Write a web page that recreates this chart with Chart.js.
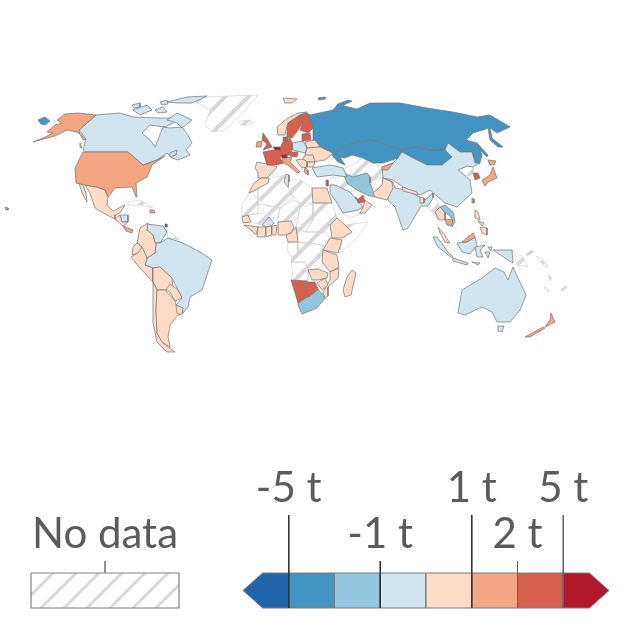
<!DOCTYPE html>
<html>
<head>
<meta charset="utf-8">
<title>Map</title>
<script src="https://cdn.jsdelivr.net/npm/chart.js@4"></script>
<style>
  html, body { margin: 0; padding: 0; background: #fff; }
  canvas { display: block; }
</style>
</head>
<body>
<canvas id="map" width="640" height="640"></canvas>
<script>
// Outlines, one list per colour bin: flat x,y pairs in map units
const noData = [
  [205,97,258,95,245,110,225,130,212,132,205,125,210,110,192,100], // Greenland
  [240,121,250,120,253,123,246,126,240,124], // Iceland
  [249,193,258,190,258,205,265,213,250,215,242,217,242,205],
  [259,188,268,183,270,178,286,175,289,182,288,187,293,197,280,208,265,205,252,193],
  [258,205,265,205,280,208,278,218,269,217,262,225,251,222,248,215,258,213],
  [280,208,293,200,300,203,298,218,291,221,278,222,278,218],
  [289,180,300,180,312,188,313,203,305,207,293,197,288,187],
  [300,203,313,203,313,220,305,232,296,227,298,218],
  [313,203,332,203,337,218,330,225,325,232,305,232,313,220],
  [296,227,305,232,325,232,330,238,323,245,298,242],
  [298,242,323,245,323,262,320,268,308,270,305,262,291,262,292,258,298,255],
  [288,242,298,242,298,255,292,258,287,250],
  [291,262,305,262,308,270,308,281,291,280,293,270],
  [345,225,368,222,355,240,340,253,342,240,352,232],
  [330,178,345,176,347,183,357,190,350,192,335,185,330,185],
  [343,213,358,210,360,213,366,212,350,218],
  [345,168,352,165,363,158,373,163,382,167,383,178,373,180,367,173,353,177,345,172],
  [370,177,383,178,382,185,373,193],
  [425,200,433,193,440,207,435,212,438,220,433,212,427,208],
  [128,202,140,200,153,208,140,205,128,205],
  [459,170,467,166,473,167,473,173,470,176,463,175],
  [513,250,523,257,528,267,517,265],
  [163,226,172,234,180,240,168,238,167,232],
  [536,256,545,262,548,268,540,262], [548,275,552,278,550,281], [561,289,566,286,567,288,562,291],
  [526,254,532,250,534,252,528,256], [545,286,549,290,548,292,544,288]
];
const binBelowMinus5 = [
  [165,224,167,224,167,227,165,227],
  [467,238,469,236,470,238,468,240]
];
const binMinus5ToMinus2 = [
  [310,115,333,110,340,105,357,109,370,103,400,103,427,108,453,112,477,117,490,115,510,127,497,133,490,128,492,138,503,147,498,147,490,140,488,128,483,130,473,133,466,140,477,143,482,155,480,163,475,163,472,152,460,152,448,143,445,150,430,150,415,147,403,150,390,147,380,142,370,140,360,142,347,145,341,148,337,153,340,157,345,165,338,162,330,153,317,144,313,140,313,128,307,113], // Russia
  [337,153,341,148,347,145,360,142,370,140,380,142,390,147,403,150,402,152,398,158,383,163,373,163,363,158,352,155,345,158,340,157],
  [403,150,415,147,430,150,445,150,452,157,442,165,427,165,413,158,402,152],
  [38,120,45,117,50,121,45,125,41,124],
  [333,110,338,104,348,100,352,101,342,106,337,112],
  [318,98,325,97,325,99,319,100],
  [477,143,488,155,487,157,478,148],
  [355,197,357,198,358,201,356,201]
];
const binMinus2ToMinus1 = [
  [343,173,353,177,367,173,370,177,370,183,375,197,367,195,357,190,347,183], // Iran
  [298,303,305,298,310,296,318,289,325,298,317,308,302,314,298,305],
  [440,207,445,205,453,212,455,222,452,227,451,217,445,212]
];
const binMinus1To0 = [
  [96,115,79,130,86,139,83,150,86,152,128,152,143,165,157,160,167,153,172,158,178,160,190,155,186,150,192,143,188,135,182,127,170,128,163,127,155,147,150,140,142,133,150,125,165,127,173,123,177,118,160,118,133,117,120,113], // Canada
  [167,120,177,113,192,120,182,128,177,123],
  [167,102,187,97,207,96,192,103,177,103],
  [133,110,147,105,152,110,140,115],
  [132,105,140,103,140,107,134,108],
  [155,110,163,107,167,112,158,113],
  [160,102,167,100,168,104,162,105],
  [170,153,177,150,176,155,170,157],
  [80,143,82,148,80,147],
  [120,215,128,215,128,222,122,222],
  [147,224,163,226,167,232,160,243,155,243,153,235,147,230],
  [145,265,147,258,155,253,156,243,160,243,168,238,183,243,200,252,212,260,208,272,202,290,190,297,188,307,183,313,176,305,182,298,178,290,172,278,160,267,153,268], // Brazil
  [402,152,413,158,427,165,442,165,452,157,445,150,448,143,460,152,472,152,475,163,480,163,473,167,467,166,458,170,470,180,472,193,457,207,445,203,430,190,420,195,403,187,393,180,383,178,382,167,393,163,398,158], // China
  [383,178,393,182,395,188,405,190,420,197,425,200,433,193,433,198,428,206,421,206,408,228,403,230,395,207,388,200], // India
  [312,168,330,165,343,168,347,177,333,175,317,177], // Turkey
  [292,143,303,141,307,148,305,153,293,150],
  [286,174,289,175,289,182,288,187,284,182],
  [330,185,335,185,350,192,357,200,363,207,358,210,343,213,335,200,330,193], // Saudi Arabia
  [262,225,269,217,274,223,271,226,266,227],
  [433,237,437,237,448,252,453,257,452,258,438,247],
  [453,258,468,263,467,265,453,261],
  [457,243,467,242,475,237,477,245,470,254,462,252],
  [475,247,485,245,480,250,483,257,477,257],
  [493,250,512,250,513,263,505,258],
  [458,313,462,290,482,278,495,268,504,272,508,280,513,267,518,278,526,295,520,310,510,322,497,322,492,312,482,307,465,315], // Australia
  [498,326,504,326,502,332,498,331],
  [485,252,490,252,488,258], [488,247,492,247,491,251], [472,262,480,263,478,265]
];
const bin0To1 = [
  [79,183,82,193,87,202,86,194,83,185],
  [85,185,97,187,105,190,108,197,107,205,113,211,125,205,120,213,115,215,115,219,107,215,95,208,90,193], // Mexico
  [115,219,120,215,122,222,128,222,123,226],
  [140,228,148,223,147,230,153,235,155,243,156,243,155,253,147,258,142,247,137,243], // Colombia
  [131,257,137,253,142,247,147,258,145,265,153,268,153,282,140,268],
  [132,255,133,247,137,243,142,247,138,253],
  [153,268,160,267,172,278,173,288,165,290,157,290,153,282],
  [166,290,170,284,178,290,182,298,175,301,170,292],
  [153,282,157,290,156,310,157,333,163,343,175,352,167,352,157,342,153,323,153,303], // Chile
  [157,290,165,290,175,301,176,305,183,313,178,315,170,325,168,337,170,347,162,342,157,333,156,310], // Argentina
  [176,305,183,308,182,315,177,313],
  [277,127,288,118,298,113,307,112,300,115,288,123,286,130,285,135,278,135], // Norway
  [283,98,297,99,292,103,285,103],
  [305,142,315,140,320,147,307,148],
  [305,155,307,148,320,147,333,153,325,160,313,162],
  [257,162,267,164,277,167,272,173,267,178,258,178,258,172,255,168], // Spain
  [305,155,313,155,315,162,307,162,303,159],
  [307,162,315,162,313,167,307,167],
  [296,160,303,159,307,162,307,167,302,168],
  [261,178,269,178,268,183,259,188,249,193,254,183],
  [312,188,327,188,332,203,313,203],
  [373,193,382,185,383,178,392,182,393,188,387,200,375,197], // Pakistan
  [402,187,417,192,418,195,403,191],
  [420,197,424,198,424,203,420,203],
  [365,200,372,205,365,213,360,213,363,207],
  [435,212,440,207,445,213,445,220,439,220,437,216],
  [438,227,443,233,450,243,445,242,440,233],
  [475,210,478,212,480,220,475,218], [480,227,487,228,487,235,482,233], [478,221,484,223,482,226],
  [242,217,248,215,251,222,243,223],
  [244,225,258,227,256,235,251,230],
  [258,227,266,227,265,237,257,237],
  [266,227,272,226,272,235,266,237],
  [272,226,277,225,276,235,272,235],
  [278,222,291,221,294,227,291,233,286,235,278,235], // Nigeria
  [286,235,291,233,296,227,298,242,288,242],
  [330,225,337,218,345,225,352,232,342,238,332,238], // Ethiopia
  [330,238,342,240,338,253,323,250],
  [323,250,337,255,339,267,330,272,322,262], // Tanzania
  [330,272,339,268,338,278,328,287,328,296,325,298,323,292,330,280],
  [308,270,318,269,328,273,327,278,318,280,312,280],
  [317,283,325,278,328,285,322,290],
  [352,270,356,273,351,295,345,297,343,290,347,277] // Madagascar
];
const bin1To2 = [
  [33,142,55,136,67,130,77,132,86,139,83,140,80,134,79,130,96,115,78,113,65,114,57,120,62,123,55,125,47,132,53,133,45,137], // Alaska
  [83,152,75,168,76,183,85,185,97,187,105,190,108,197,115,188,132,187,136,197,137,197,136,183,147,177,152,165,165,156,157,160,143,165,128,152], // USA
  [123,226,128,228,133,230,132,233,126,231],
  [150,210,154,210,155,213,150,213],
  [5,207,8,208,8,210,6,210],
  [257,142,262,141,261,147,256,147],
  [282,158,292,157,290,162,295,167,300,172,297,173,288,165,283,163], // Italy
  [305,167,308,170,308,175,304,172],
  [382,167,393,163,388,170,382,170],
  [445,219,453,220,451,226,447,225],
  [462,242,468,237,473,233,475,237,467,242],
  [472,198,474,199,474,203,472,203],
  [488,160,496,161,494,165,490,165],
  [493,167,497,178,488,182,485,186,482,180,490,175],
  [525,337,543,327,545,328,530,337],
  [551,313,555,322,545,327,550,320]
];
const bin2To5 = [
  [288,123,300,115,303,123,296,133,292,138,287,137,287,128], // Sweden
  [300,115,307,113,313,128,308,133,300,130,303,123], // Finland
  [302,134,310,133,311,140,302,141],
  [283,142,290,138,292,143,292,150,290,155,282,155,280,148], // Germany
  [283,137,288,137,287,141,283,141],
  [263,133,268,140,272,147,263,150,267,144,262,140], // UK
  [263,152,273,150,281,150,282,155,280,158,283,163,277,165,267,165,265,158], // France
  [292,152,298,152,297,157,290,156],
  [326,180,328,180,328,186,326,186],
  [291,280,307,281,305,298,298,303,295,293],
  [307,282,315,282,318,289,310,296,305,298],
  [357,200,363,195,365,202,358,203],
  [473,173,478,173,480,178,475,180]
];
const binAbove5 = [
  [273,147,280,147,281,150,275,150],
  [281,155,287,154,287,158,282,158]
];

// Legend: bin edges counted from the left arrow tip
const legendLabels = ['-5 t', '-1 t', '1 t', '2 t', '5 t'];
const legendBreaks = [1, 3, 5, 6, 7];
const binColors = ['#2166ac', '#4393c3', '#92c5de', '#d1e5f0', '#fddbc7', '#f4a582', '#d6604d', '#b2182b'];

// Diagonal stripes for "No data"
function makeHatch(width, offset) {
  const size = 23;
  const c = document.createElement('canvas');
  c.width = size;
  c.height = size;
  const g = c.getContext('2d');
  g.strokeStyle = '#d8d8d8';
  g.lineWidth = width;
  g.lineCap = 'square';
  for (const off of [-size, 0, size]) {
    g.beginPath();
    g.moveTo(off + offset, size);
    g.lineTo(off + offset + size, 0);
    g.stroke();
  }
  return g.createPattern(c, 'repeat');
}

function toPoints(flat) {
  const pts = [];
  for (let i = 0; i < flat.length; i += 2) pts.push({ x: flat[i], y: flat[i + 1] });
  pts.push({ x: flat[0], y: flat[1] });
  return pts;
}

function shape(data, fillColor, strokeColor, strokeWidth, xAxisID) {
  return {
    data: data,
    showLine: true,
    fill: 'shape',
    tension: 0,
    pointRadius: 0,
    backgroundColor: fillColor,
    borderColor: strokeColor,
    borderWidth: strokeWidth,
    xAxisID: xAxisID || 'x',
    yAxisID: 'y'
  };
}

const mapHatch = makeHatch(4, 0);
const legendHatch = makeHatch(3, 5);
const datasets = [];

noData.forEach(p => datasets.push(shape(toPoints(p), mapHatch, '#d2d2d2', 0.7)));
[binBelowMinus5, binMinus5ToMinus2, binMinus2ToMinus1, binMinus1To0, bin0To1, bin1To2, bin2To5, binAbove5].forEach((list, i) => {
  list.forEach(p => datasets.push(shape(toPoints(p), binColors[i], '#747474', 0.7)));
});

// Legend boxes
const legendTop = 573, legendBottom = 608, legendMid = 590.5;
datasets.push(shape(toPoints([31, legendTop, 179, legendTop, 179, legendBottom, 31, legendBottom]), legendHatch, '#808080', 1.2));
binColors.forEach((color, i) => {
  let outline;
  if (i === 0) {
    outline = [0, legendMid, 0.43, legendTop, 1, legendTop, 1, legendBottom, 0.43, legendBottom];
  } else if (i === binColors.length - 1) {
    outline = [i, legendTop, i + 0.57, legendTop, i + 1, legendMid, i + 0.57, legendBottom, i, legendBottom];
  } else {
    outline = [i, legendTop, i + 1, legendTop, i + 1, legendBottom, i, legendBottom];
  }
  datasets.push(shape(toPoints(outline), color, '#7a7a7a', 1, 'legendX'));
});

// Legend tick lines, long ones reach the upper label row
legendBreaks.forEach((b, i) => {
  const top = i % 2 === 0 ? 515 : 561;
  datasets.push({
    data: [{ x: b, y: top }, { x: b, y: legendBottom }],
    showLine: true,
    pointRadius: 0,
    borderColor: i < 3 ? '#333333' : '#666666',
    borderWidth: 1,
    xAxisID: 'legendX',
    yAxisID: 'y'
  });
});
datasets.push({
  data: [{ x: 105, y: 561 }, { x: 105, y: legendTop }],
  showLine: true,
  pointRadius: 0,
  borderColor: '#808080',
  borderWidth: 1,
  xAxisID: 'x',
  yAxisID: 'y'
});

// Draw later datasets on top
datasets.forEach((d, i) => { d.order = datasets.length - i; });

const legendText = {
  id: 'legendText',
  afterDatasetsDraw(chart) {
    const ctx = chart.ctx;
    ctx.save();
    ctx.fillStyle = '#5b5b5b';
    ctx.font = '400 42px Lato';
    ctx.textAlign = 'center';
    ctx.textBaseline = 'alphabetic';
    legendLabels.forEach((label, i) => {
      const y = chart.scales.y.getPixelForValue(i % 2 === 0 ? 502 : 548);
      ctx.fillText(label, chart.scales.legendX.getPixelForValue(legendBreaks[i]), y);
    });
    ctx.fillText('No data', chart.scales.x.getPixelForValue(105), chart.scales.y.getPixelForValue(548));
    ctx.restore();
  }
};

new Chart(document.getElementById('map'), {
  type: 'scatter',
  data: { datasets: datasets },
  options: {
    responsive: false,
    animation: false,
    events: [],
    layout: { padding: 0 },
    elements: { line: { borderJoinStyle: 'round' } },
    plugins: { legend: { display: false }, tooltip: { enabled: false } },
    scales: {
      x: { type: 'linear', display: false, min: 0, max: 640 },
      legendX: { type: 'linear', display: false, min: -243 / 45.75, max: (640 - 243) / 45.75 },
      y: { type: 'linear', display: false, min: 0, max: 640, reverse: true }
    }
  },
  plugins: [legendText]
});
</script>
</body>
</html>
